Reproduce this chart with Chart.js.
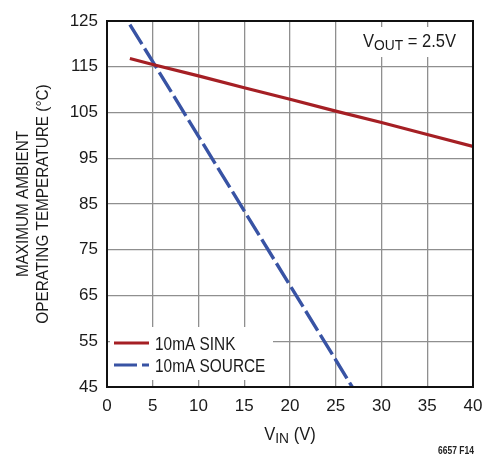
<!DOCTYPE html>
<html>
<head>
<meta charset="utf-8">
<script src="https://cdn.jsdelivr.net/npm/chart.js@4.4.1/dist/chart.umd.min.js"></script>
<style>
  html, body { margin: 0; padding: 0; background: #fff; }
  #wrap { width: 483px; height: 455px; }
</style>
</head>
<body>
<div id="wrap"><canvas id="c" width="483" height="455"></canvas></div>
<script>
// Maximum ambient operating temperature vs input voltage, VOUT = 2.5V
const FONT = '"Liberation Sans", Arial, Helvetica, sans-serif';

const sinkVin = [2.5, 5, 10, 15, 20, 25, 30, 35, 40];
const sinkTemp = [116.8, 115.5, 113.0, 110.4, 107.9, 105.3, 102.8, 100.2, 97.6];

const sourceVin = [2.5, 5, 10, 15, 20, 25, 26.8];
const sourceTemp = [124.2, 116.1, 99.8, 83.5, 67.2, 50.9, 45.0];

const seriesLabels = ['10mA SINK', '10mA SOURCE'];
const seriesColors = ['#a51f24', '#3853a4'];

const xTickValues = [0, 5, 10, 15, 20, 25, 30, 35, 40];
const yTickValues = [45, 55, 65, 75, 85, 95, 105, 115, 125];

const yTitleLines = ['MAXIMUM AMBIENT', 'OPERATING TEMPERATURE (°C)'];
const xTitleParts = [['V', 0], ['IN', 1], [' (V)', 0]];
const noteParts = [['V', 0], ['OUT', 1], [' = 2.5V', 0]];
const figureId = '6657 F14';

const DASH = [23, 5];

function toPoints(xs, ys) {
  return xs.map((x, i) => ({ x: x, y: ys[i] }));
}

// Draw text pieces with optional subscripts, horizontally condensed.
function drawRich(ctx, parts, x, y, align, size, squeeze) {
  const subSize = Math.round(size * 0.84);
  const widths = parts.map(p => {
    ctx.font = (p[1] ? subSize : size) + 'px ' + FONT;
    return ctx.measureText(p[0]).width;
  });
  const total = widths.reduce((a, b) => a + b, 0) * squeeze;
  let cx = align === 'center' ? x - total / 2 : (align === 'right' ? x - total : x);
  ctx.save();
  ctx.textBaseline = 'alphabetic';
  ctx.textAlign = 'left';
  parts.forEach((p, i) => {
    ctx.font = (p[1] ? subSize : size) + 'px ' + FONT;
    ctx.save();
    ctx.translate(cx, y + (p[1] ? 3 : 0));
    ctx.scale(squeeze, 1);
    ctx.fillText(p[0], 0, 0);
    ctx.restore();
    cx += widths[i] * squeeze;
  });
  ctx.restore();
}

const decorations = {
  id: 'decorations',
  beforeDatasetsDraw(chart) {
    const ctx = chart.ctx;
    ctx.save();
    ctx.fillStyle = '#ffffff';
    // legend panel and note panel mask the grid
    ctx.fillRect(110, 327, 163, 53);
    ctx.fillRect(355, 27, 115, 30);
    ctx.restore();
  },
  afterDatasetsDraw(chart) {
    const ctx = chart.ctx;
    const a = chart.chartArea;
    ctx.save();
    // frame
    ctx.strokeStyle = '#111';
    ctx.lineWidth = 2;
    ctx.strokeRect(a.left, a.top, a.right - a.left, a.bottom - a.top);

    ctx.fillStyle = '#1a1a1a';
    // legend
    const rows = [343, 365];
    rows.forEach((ry, i) => {
      ctx.save();
      ctx.strokeStyle = seriesColors[i];
      ctx.lineWidth = 3.2;
      if (i === 1) ctx.setLineDash(DASH);
      ctx.beginPath();
      ctx.moveTo(114, ry);
      ctx.lineTo(149, ry);
      ctx.stroke();
      ctx.restore();
      drawRich(ctx, [[seriesLabels[i], 0]], 155, ry + 6.5, 'left', 17.5, 0.88);
    });

    // note
    drawRich(ctx, noteParts, 363, 47, 'left', 18, 0.92);

    // x title
    drawRich(ctx, xTitleParts, (a.left + a.right) / 2, 440, 'center', 18, 0.92);

    // y title
    const cy = (a.top + a.bottom) / 2;
    [22, 42].forEach((lx, i) => {
      ctx.save();
      ctx.translate(lx + 6, cy);
      ctx.rotate(-Math.PI / 2);
      drawRich(ctx, [[yTitleLines[i], 0]], 0, 0, 'center', 17, 0.9);
      ctx.restore();
    });

    // figure id
    ctx.fillStyle = '#222';
    ctx.font = 'bold 10px ' + FONT;
    ctx.save();
    ctx.translate(474, 454);
    ctx.scale(0.85, 1);
    ctx.textAlign = 'right';
    ctx.textBaseline = 'alphabetic';
    ctx.fillText(figureId, 0, 0);
    ctx.restore();
    ctx.restore();
  }
};

new Chart(document.getElementById('c'), {
  type: 'line',
  data: {
    datasets: [
      {
        label: seriesLabels[0],
        data: toPoints(sinkVin, sinkTemp),
        borderColor: seriesColors[0],
        borderWidth: 3.2,
        pointRadius: 0,
        tension: 0
      },
      {
        label: seriesLabels[1],
        data: toPoints(sourceVin, sourceTemp),
        borderColor: seriesColors[1],
        borderWidth: 3.4,
        borderDash: DASH,
        pointRadius: 0,
        tension: 0
      }
    ]
  },
  options: {
    responsive: false,
    devicePixelRatio: 1,
    animation: false,
    layout: { padding: { top: 21, right: 10, left: 0, bottom: 0 } },
    plugins: { legend: { display: false }, tooltip: { enabled: false } },
    scales: {
      x: {
        type: 'linear',
        min: xTickValues[0],
        max: xTickValues[xTickValues.length - 1],
        afterBuildTicks: s => { s.ticks = xTickValues.map(v => ({ value: v })); },
        afterFit: s => { s.height = 68; s.paddingLeft = 0; s.paddingRight = 0; },
        grid: { color: '#8f8f8f', lineWidth: 1.3, drawTicks: false },
        border: { display: false },
        ticks: { color: '#1a1a1a', font: { family: FONT, size: 17 }, padding: 9, maxRotation: 0 }
      },
      y: {
        type: 'linear',
        min: yTickValues[0],
        max: yTickValues[yTickValues.length - 1],
        afterBuildTicks: s => { s.ticks = yTickValues.map(v => ({ value: v })); },
        afterFit: s => { s.width = 107; s.paddingTop = 0; s.paddingBottom = 0; },
        grid: { color: '#8f8f8f', lineWidth: 1.3, drawTicks: false },
        border: { display: false },
        ticks: { color: '#1a1a1a', font: { family: FONT, size: 17 }, padding: 9 }
      }
    }
  },
  plugins: [decorations]
});
</script>
</body>
</html>
